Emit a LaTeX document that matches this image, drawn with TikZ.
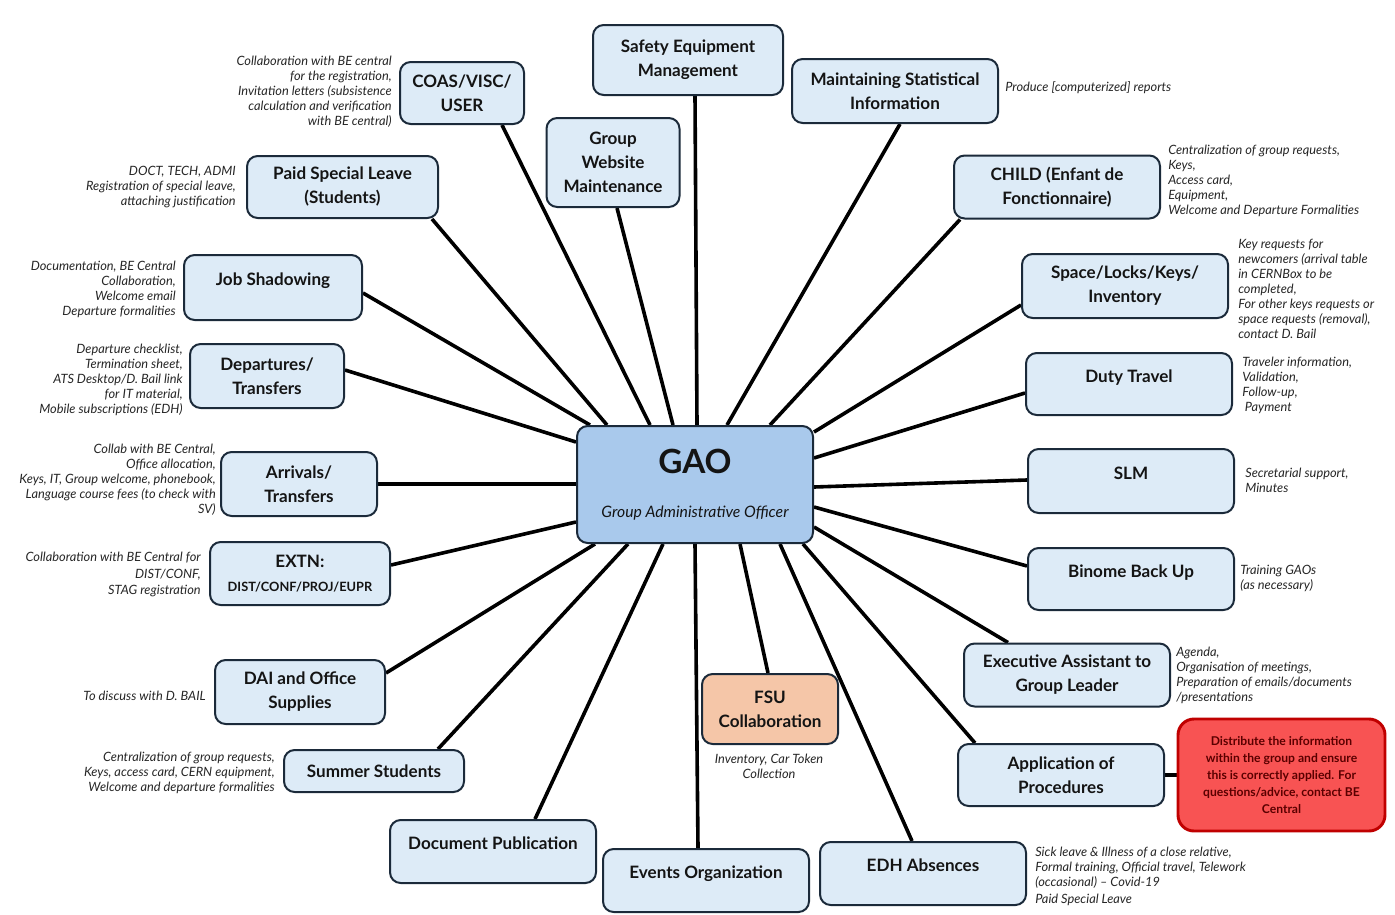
\documentclass[tikz,border=0pt]{standalone}
\usepackage{fontspec}
\setmainfont{Lato}
\usetikzlibrary{backgrounds}
\definecolor{boxfill}{HTML}{DDEBF7}
\definecolor{boxline}{HTML}{1B2A3A}
\definecolor{gaofill}{HTML}{A9C9EC}
\definecolor{fsufill}{HTML}{F5C6A8}
\definecolor{redfill}{HTML}{F85353}
\definecolor{redline}{HTML}{C00000}
\definecolor{redtext}{HTML}{5A0000}
\definecolor{notetext}{HTML}{262626}
\newdimen\pix \pix=0.75pt
\begin{document}
\begin{tikzpicture}[x=0.75pt,y=-0.75pt]
	\tikzset{
		box/.style={draw=boxline, line width=1.5pt, rounded corners=8pt, fill=boxfill, align=center, inner sep=2pt,
			font=\bfseries\fontsize{12.8}{18}\selectfont, text=black!92},
		up/.style={text depth=12pt},
		note/.style={font=\itshape\fontsize{9.6}{11.25}\selectfont, text=notetext, inner sep=0pt},
		link/.style={line width=2.7pt, black}
	}
	\useasboundingbox (0,0) rectangle (1395,914);
	% centre
	\node[box, fill=gaofill, minimum width=236\pix, minimum height=117\pix] (gao) at (695,484.5)
		{\fontsize{25}{30}\selectfont GAO\\[15pt]{\mdseries\itshape\fontsize{11.8}{13}\selectfont Group Administrative Officer}};
	% upper half
	\node[box, minimum width=124\pix, minimum height=62\pix] (coas) at (462,93) {COAS/VISC/\\USER};
	\node[box, minimum width=190\pix, minimum height=70\pix] (safety) at (688,60) {Safety Equipment\\Management};
	\node[box, minimum width=206\pix, minimum height=64\pix] (maint) at (895,91) {Maintaining Statistical\\Information};
	\node[box, minimum width=133\pix, minimum height=89\pix] (web) at (613,162.5) {Group\\Website\\Maintenance};
	\node[box, minimum width=191\pix, minimum height=62\pix] (psl) at (342.5,187) {Paid Special Leave\\(Students)};
	\node[box, minimum width=206\pix, minimum height=63\pix] (child) at (1057,187) {CHILD (Enfant de\\Fonctionnaire)};
	\node[box, up, minimum width=178\pix, minimum height=65\pix] (job) at (273,287.5) {Job Shadowing};
	\node[box, minimum width=206\pix, minimum height=64\pix] (space) at (1125,286) {Space/Locks/Keys/\\Inventory};
	\node[box, minimum width=154\pix, minimum height=64\pix] (dep) at (267,376) {Departures/\\Transfers};
	\node[box, up, minimum width=206\pix, minimum height=62\pix] (duty) at (1129,384) {Duty Travel};
	% lower half
	\node[box, minimum width=156\pix, minimum height=64\pix] (arr) at (299,484) {Arrivals/\\Transfers};
	\node[box, up, minimum width=206\pix, minimum height=64\pix] (slm) at (1131,481) {SLM};
	\node[box, minimum width=180\pix, minimum height=63\pix] (extn) at (300,573.5)
		{EXTN:\\{\fontsize{9.6}{14}\selectfont DIST/CONF/PROJ/EUPR}};
	\node[box, up, minimum width=206\pix, minimum height=62\pix] (binome) at (1131,579) {Binome Back Up};
	\node[box, minimum width=206\pix, minimum height=63\pix] (exec) at (1067,675) {Executive Assistant to\\Group Leader};
	\node[box, minimum width=170\pix, minimum height=64\pix] (dai) at (300,692) {DAI and Office\\Supplies};
	\node[box, fill=fsufill, minimum width=136\pix, minimum height=70\pix] (fsu) at (770,709) {FSU\\Collaboration};
	\node[box, minimum width=180\pix, minimum height=42\pix] (summer) at (374,771) {Summer Students};
	\node[box, minimum width=206\pix, minimum height=62\pix] (app) at (1061,775) {Application of\\Procedures};
	\node[box, fill=redfill, draw=redline, line width=2.2pt, rounded corners=12pt, text=redtext,
		font=\bfseries\fontsize{9.1}{12.8}\selectfont, minimum width=207\pix, minimum height=112\pix] (red) at (1281.5,775)
		{Distribute the information\\within the group and ensure\\this is correctly applied. For\\questions/advice, contact BE\\Central};
	\node[box, up, minimum width=206\pix, minimum height=63\pix] (docpub) at (493,851.5) {Document Publication};
	\node[box, up, minimum width=206\pix, minimum height=63\pix] (events) at (706,880.5) {Events Organization};
	\node[box, up, minimum width=206\pix, minimum height=63\pix] (edh) at (923,873.5) {EDH Absences};
	% notes, left side
	\node[note, anchor=east, align=right] (coasnote) at (392,92) {Collaboration with BE central\\for the registration,\\Invitation letters (subsistence\\calculation and verification\\with BE central)};
	\node[note, anchor=east, align=right] (pslnote) at (236,187) {DOCT, TECH, ADMI\\Registration of special leave,\\attaching justification};
	\node[note, anchor=east, align=right] (jobnote) at (176,289.5) {Documentation, BE Central\\Collaboration,\\Welcome email\\Departure formalities};
	\node[note, anchor=east, align=right] (depnote) at (183,380) {Departure checklist,\\Termination sheet,\\ATS Desktop/D. Bail link\\for IT material,\\Mobile subscriptions (EDH)};
	\node[note, anchor=east, align=right] (arrnote) at (216,480) {Collab with BE Central,\\Office allocation,\\Keys, IT, Group welcome, phonebook,\\Language course fees (to check with\\SV)};
	\node[note, anchor=east, align=right, font=\itshape\fontsize{9.6}{12.4}\selectfont] (extnnote) at (201,574.5) {Collaboration with BE Central for\\DIST/CONF,\\STAG registration};
	\node[note, anchor=east] (dainote) at (206,696) {To discuss with D. BAIL};
	\node[note, anchor=east, align=right] (summernote) at (275,773) {Centralization of group requests,\\Keys, access card, CERN equipment,\\Welcome and departure formalities};
	% notes, right side
	\node[note, anchor=west] (maintnote) at (1005,88) {Produce [computerized] reports};
	\node[note, anchor=west, align=left] (childnote) at (1168,180.5) {Centralization of group requests,\\Keys,\\Access card,\\Equipment,\\Welcome and Departure Formalities};
	\node[note, anchor=west, align=left] (spacenote) at (1238,288.5) {Key requests for\\newcomers (arrival table\\in CERNBox to be\\completed,\\For other keys requests or\\space requests (removal),\\contact D. Bail};
	\node[note, anchor=west, align=left] (dutynote) at (1242,385) {Traveler information,\\Validation,\\Follow-up,\\\hspace{2pt}Payment};
	\node[note, anchor=west, align=left] (slmnote) at (1245,480.5) {Secretarial support,\\Minutes};
	\node[note, anchor=west, align=left] (binomenote) at (1240,578) {Training GAOs\\(as necessary)};
	\node[note, anchor=west, align=left] (execnote) at (1176,675.5) {Agenda,\\Organisation of meetings,\\Preparation of emails/documents\\/presentations};
	\node[note, align=center] (fsunote) at (769,766) {Inventory, Car Token\\Collection};
	\node[note, anchor=west, align=left] (edhnote) at (1035,876.5) {Sick leave \& Illness of a close relative,\\Formal training, Official travel, Telework\\(occasional) -- Covid-19\\[2pt]Paid Special Leave};
	% spokes
	\begin{scope}[on background layer]
		\fill[white] (0,0) rectangle (1395,914);
		\draw[link] (coas.south -| 502,0) -- (gao.north -| 650,0);
		\draw[link] (safety.south -| 695,0) -- (gao.north -| 697,0);
		\draw[link] (maint.south -| 900,0) -- (gao.north -| 727,0);
		\draw[link] (web.south -| 617,0) -- (gao.north -| 673,0);
		\draw[link] (psl.south -| 432,0) -- (gao.north -| 607,0);
		\draw[link] (child.south -| 960,0) -- (gao.north -| 770,0);
		\draw[link] (job.east |- 0,293) -- (gao.north -| 590,0);
		\draw[link] (space.west |- 0,305) -- (gao.east |- 0,432);
		\draw[link] (dep.east |- 0,370) -- (gao.west |- 0,442);
		\draw[link] (duty.west |- 0,393) -- (gao.east |- 0,458);
		\draw[link] (arr.east) -- (gao.west |- arr.east);
		\draw[link] (slm.west |- 0,480) -- (gao.east |- 0,487);
		\draw[link] (extn.east |- 0,565) -- (gao.west |- 0,522);
		\draw[link] (binome.west |- 0,566) -- (gao.east |- 0,507);
		\draw[link] (exec.north -| 1008,0) -- (gao.east |- 0,527);
		\draw[link] (dai.east |- 0,673) -- (gao.south -| 595,0);
		\draw[link] (fsu.north -| 768,0) -- (gao.south -| 740,0);
		\draw[link] (summer.north -| 438,0) -- (gao.south -| 628,0);
		\draw[link] (app.north -| 975,0) -- (gao.south -| 803,0);
		\draw[link] (app.east) -- (red.west |- app.east);
		\draw[link] (docpub.north -| 535,0) -- (gao.south -| 663,0);
		\draw[link] (events.north -| 698,0) -- (gao.south -| 695,0);
		\draw[link] (edh.north -| 912,0) -- (gao.south -| 780,0);
	\end{scope}
\end{tikzpicture}
\end{document}
